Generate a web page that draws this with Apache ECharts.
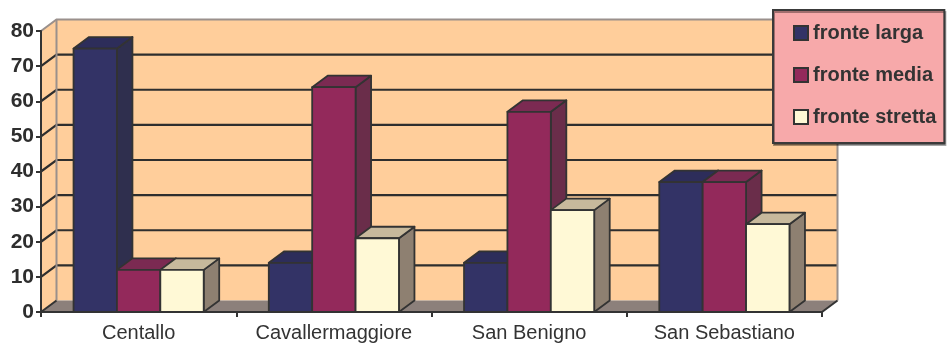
<!DOCTYPE html>
<html>
<head>
<meta charset="utf-8">
<script src="https://cdn.jsdelivr.net/npm/echarts@6/dist/echarts.min.js"></script>
<style>
  html, body { margin: 0; padding: 0; background: #ffffff; }
  #chart { width: 947px; height: 347px; }
</style>
</head>
<body>
<div id="chart"></div>
<script>
// Site categories and values (%) for each front width class
const categories = ['Centallo', 'Cavallermaggiore', 'San Benigno', 'San Sebastiano'];
const seriesNames = ['fronte larga', 'fronte media', 'fronte stretta'];
const fronteLarga = [75, 14, 14, 37];
const fronteMedia = [12, 64, 57, 37];
const fronteStretta = [12, 21, 29, 25];
const yTicks = [0, 10, 20, 30, 40, 50, 60, 70, 80];

// Face colours of each box: front, top, side
const palette = [
  { front: '#333366', top: '#2d2d5a', side: '#2f2f4e' },
  { front: '#93295b', top: '#7b2a52', side: '#6a2d4a' },
  { front: '#fff9d6', top: '#c7b99c', side: '#8e8071' }
];

// Oblique projection used for depth
const DX = 15.5, DY = -11.5;
const EDGE = '#333333';

const chart = echarts.init(document.getElementById('chart'));

function wallsRender(params, api) {
  const cs = params.coordSys;
  const x0 = cs.x, x1 = cs.x + cs.width;
  const yb = cs.y + cs.height;
  const yt = api.coord([0, yTicks[yTicks.length - 1]])[1];
  const children = [];
  // back wall
  children.push({ type: 'polygon', shape: { points: [
    [x0 + DX, yt + DY], [x1 + DX, yt + DY], [x1 + DX, yb + DY], [x0 + DX, yb + DY]
  ] }, style: { fill: '#ffce9b', stroke: null } });
  // side wall
  children.push({ type: 'polygon', shape: { points: [
    [x0, yt], [x0 + DX, yt + DY], [x0 + DX, yb + DY], [x0, yb]
  ] }, style: { fill: '#ffce9b', stroke: null } });
  // floor
  children.push({ type: 'polygon', shape: { points: [
    [x0, yb], [x0 + DX, yb + DY], [x1 + DX, yb + DY], [x1, yb]
  ] }, style: { fill: '#8c807b', stroke: null } });
  // grid lines on side and back walls
  yTicks.forEach(function (v) {
    if (v === 0 || v === yTicks[yTicks.length - 1]) return;
    const y = api.coord([0, v])[1];
    children.push({ type: 'polyline', shape: { points: [
      [x0, y], [x0 + DX, y + DY], [x1 + DX, y + DY]
    ] }, style: { stroke: '#2e2e2e', lineWidth: 2.2, fill: null } });
  });
  // wall borders
  children.push({ type: 'polyline', shape: { points: [
    [x0, yt], [x0 + DX, yt + DY], [x1 + DX, yt + DY], [x1 + DX, yb + DY]
  ] }, style: { stroke: '#9a908c', lineWidth: 2, fill: null } });
  children.push({ type: 'line', shape: { x1: x0 + DX, y1: yt + DY, x2: x0 + DX, y2: yb + DY },
    style: { stroke: '#9a908c', lineWidth: 2 } });
  // floor edges
  children.push({ type: 'line', shape: { x1: x0, y1: yb, x2: x0 + DX, y2: yb + DY },
    style: { stroke: EDGE, lineWidth: 2 } });
  children.push({ type: 'line', shape: { x1: x1, y1: yb, x2: x1 + DX, y2: yb + DY },
    style: { stroke: EDGE, lineWidth: 2 } });
  return { type: 'group', children: children };
}

function boxRender(seriesIndex) {
  return function (params, api) {
    const cat = api.value(0);
    const val = api.value(1);
    const top = api.coord([cat, val]);
    const base = api.coord([cat, 0]);
    const band = api.size([1, 0])[0];
    const bw = band * 2 / 9;
    const xl = top[0] - band / 3 + seriesIndex * bw;
    const xr = xl + bw;
    const yt = top[1], yb = base[1];
    const c = palette[seriesIndex];
    const st = { stroke: EDGE, lineWidth: 1.8, lineJoin: 'round' };
    return { type: 'group', children: [
      { type: 'polygon', shape: { points: [[xr, yt], [xr + DX, yt + DY], [xr + DX, yb + DY], [xr, yb]] },
        style: Object.assign({ fill: c.side }, st) },
      { type: 'polygon', shape: { points: [[xl, yt], [xl + DX, yt + DY], [xr + DX, yt + DY], [xr, yt]] },
        style: Object.assign({ fill: c.top }, st) },
      { type: 'rect', shape: { x: xl, y: yt, width: bw, height: yb - yt },
        style: Object.assign({ fill: c.front }, st) }
    ] };
  };
}

const values = [fronteLarga, fronteMedia, fronteStretta];
const boxSeries = values.map(function (arr, i) {
  return {
    type: 'custom',
    name: seriesNames[i],
    coordinateSystem: 'cartesian2d',
    renderItem: boxRender(i),
    itemStyle: { color: palette[i].front, borderColor: EDGE, borderWidth: 1.5 },
    encode: { x: 0, y: 1 },
    data: arr.map(function (v, k) { return [k, v]; }),
    z: 3
  };
});

chart.setOption({
  animation: false,
  backgroundColor: '#ffffff',
  textStyle: { fontFamily: 'Liberation Sans, Arial, sans-serif' },
  grid: { left: 41, right: 125, top: 31, bottom: 35 },
  xAxis: {
    type: 'category',
    data: categories,
    boundaryGap: true,
    axisLine: { lineStyle: { color: EDGE, width: 2 } },
    axisTick: { show: true, length: 5, lineStyle: { color: EDGE, width: 2 } },
    axisLabel: { color: '#333333', fontSize: 20, margin: 11, interval: 0 },
    splitLine: { show: false },
    z: 5
  },
  yAxis: {
    type: 'value',
    min: 0,
    max: 80,
    interval: 10,
    axisLine: { show: true, lineStyle: { color: EDGE, width: 2 } },
    axisTick: { show: true, length: 5, lineStyle: { color: EDGE, width: 2 } },
    axisLabel: { color: '#2e2e2e', fontSize: 21, fontWeight: 'bold', margin: 7 },
    splitLine: { show: false },
    z: 5
  },
  legend: {
    orient: 'vertical',
    left: 773,
    top: 10,
    data: seriesNames,
    icon: 'rect',
    itemWidth: 14,
    itemHeight: 14,
    itemGap: 22,
    padding: [13, 8, 16, 20],
    backgroundColor: '#f7a9aa',
    borderColor: '#3a3a3a',
    borderWidth: 2,
    shadowColor: 'rgba(0,0,0,0.35)',
    shadowOffsetX: 1,
    shadowOffsetY: 2,
    shadowBlur: 0,
    textStyle: { color: '#333333', fontSize: 20, fontWeight: 'bold', lineHeight: 14 },
    selectedMode: false
  },
  series: [{
    type: 'custom',
    name: 'walls',
    coordinateSystem: 'cartesian2d',
    renderItem: wallsRender,
    data: [[0, 0]],
    silent: true,
    z: -1
  }].concat(boxSeries)
});
</script>
</body>
</html>
